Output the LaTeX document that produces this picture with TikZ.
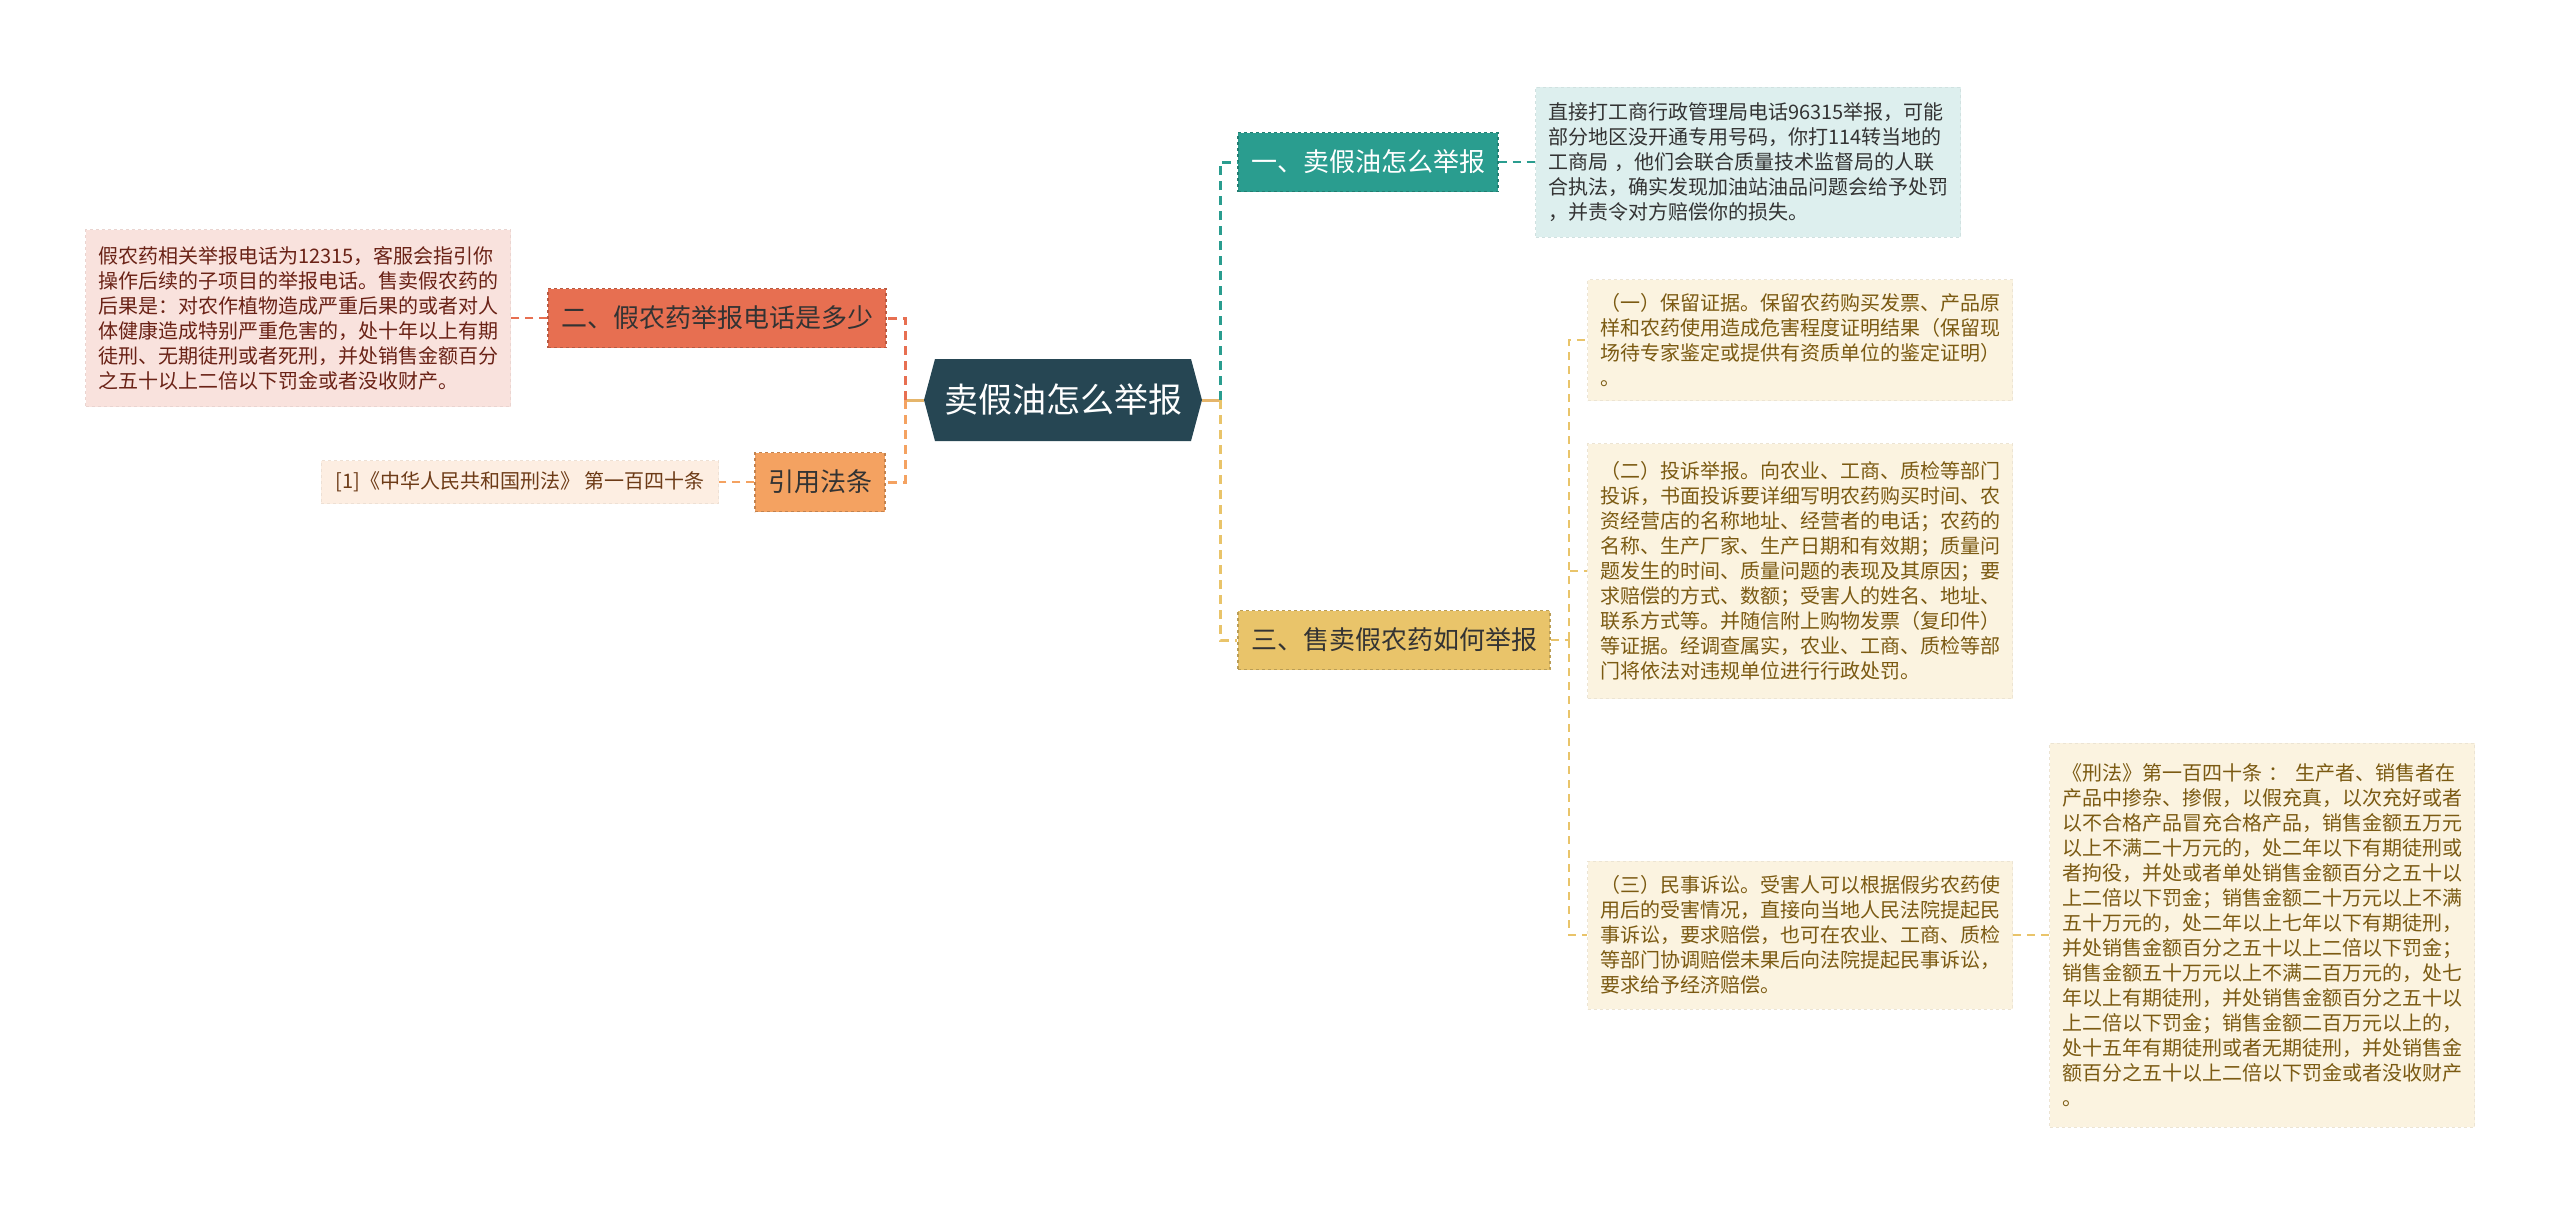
\documentclass[tikz,border=0pt]{standalone}
\usepackage{fontspec}
\setmainfont{Noto Sans CJK SC}
\usetikzlibrary{shapes.symbols}
\definecolor{rootfill}{HTML}{264653}
\definecolor{tealfill}{HTML}{2A9D8F}
\definecolor{goldfill}{HTML}{E9C46A}
\definecolor{coralfill}{HTML}{E76F51}
\definecolor{orangefill}{HTML}{F4A261}
\definecolor{cyanleaf}{HTML}{DDEFEE}
\definecolor{creamleaf}{HTML}{FBF3E0}
\definecolor{pinkleaf}{HTML}{F9E2DD}
\definecolor{peachleaf}{HTML}{FDEEE2}
\definecolor{creamtext}{HTML}{7B5A12}
\definecolor{pinktext}{HTML}{6A2216}
\definecolor{peachtext}{HTML}{6D3B17}
\definecolor{rootlink}{HTML}{E5B56B}

\begin{document}
\begin{tikzpicture}[x=1pt, y=-1pt,
  rootnode/.style={shape=signal, signal to=west and east, signal pointer angle=150, fill=rootfill, text=white, font=\fontsize{34}{40}\selectfont, minimum width=278pt, minimum height=82pt, inner sep=0pt},
  branch/.style={draw=#1!80!black, dashed, line width=1.2pt, fill=#1, font=\fontsize{26}{30}\selectfont, minimum height=59pt, inner xsep=13pt, inner ysep=0pt},
  leafbox/.style={draw=#1!94!black, dashed, line width=0.8pt, fill=#1, font=\fontsize{20}{25}\selectfont, text width=400pt, align=left, inner xsep=12.5pt, inner ysep=8pt},
  trunk/.style={draw=#1, dashed, line width=3pt, dash pattern=on 9pt off 6pt},
  leaflink/.style={draw=#1, dashed, line width=1.6pt, dash pattern=on 8pt off 6pt},
  rootstub/.style={draw=rootlink, line width=3pt}
]
\useasboundingbox (0,0) rectangle (2560,1215);

% centre and main branches
\node[rootnode] (root) at (1063,400) {卖假油怎么举报};
\node[branch=tealfill, text=white] (b1) at (1368,162) {一、卖假油怎么举报};
\node[branch=goldfill, text=black!80] (b3) at (1394,640) {三、售卖假农药如何举报};
\node[branch=coralfill, text=black!80] (b2) at (717,318) {二、假农药举报电话是多少};
\node[branch=orangefill, text=black!80] (b4) at (820,482) {引用法条};

% leaves
\node[leafbox=cyanleaf, text=black!80, minimum height=150pt] (l1) at (1748,162) {直接打工商行政管理局电话96315举报，可能\\
部分地区没开通专用号码，你打114转当地的\\
工商局 ，他们会联合质量技术监督局的人联\\
合执法，确实发现加油站油品问题会给予处罚\\
，并责令对方赔偿你的损失。};
\node[leafbox=creamleaf, text=creamtext, minimum height=121pt] (l31) at (1800,340) {（一）保留证据。保留农药购买发票、产品原\\
样和农药使用造成危害程度证明结果（保留现\\
场待专家鉴定或提供有资质单位的鉴定证明）\\
。};
\node[leafbox=creamleaf, text=creamtext, minimum height=255pt] (l32) at (1800,571) {（二）投诉举报。向农业、工商、质检等部门\\
投诉，书面投诉要详细写明农药购买时间、农\\
资经营店的名称地址、经营者的电话；农药的\\
名称、生产厂家、生产日期和有效期；质量问\\
题发生的时间、质量问题的表现及其原因；要\\
求赔偿的方式、数额；受害人的姓名、地址、\\
联系方式等。并随信附上购物发票（复印件）\\
等证据。经调查属实，农业、工商、质检等部\\
门将依法对违规单位进行行政处罚。};
\node[leafbox=creamleaf, text=creamtext, minimum height=148pt] (l33) at (1800,935) {（三）民事诉讼。受害人可以根据假劣农药使\\
用后的受害情况，直接向当地人民法院提起民\\
事诉讼，要求赔偿，也可在农业、工商、质检\\
等部门协调赔偿未果后向法院提起民事诉讼，\\
要求给予经济赔偿。};
\node[leafbox=creamleaf, text=creamtext, minimum height=384pt] (l34) at (2262,935) {《刑法》第一百四十条 ： 生产者、销售者在\\
产品中掺杂、掺假，以假充真，以次充好或者\\
以不合格产品冒充合格产品，销售金额五万元\\
以上不满二十万元的，处二年以下有期徒刑或\\
者拘役，并处或者单处销售金额百分之五十以\\
上二倍以下罚金；销售金额二十万元以上不满\\
五十万元的，处二年以上七年以下有期徒刑，\\
并处销售金额百分之五十以上二倍以下罚金；\\
销售金额五十万元以上不满二百万元的，处七\\
年以上有期徒刑，并处销售金额百分之五十以\\
上二倍以下罚金；销售金额二百万元以上的，\\
处十五年有期徒刑或者无期徒刑，并处销售金\\
额百分之五十以上二倍以下罚金或者没收财产\\
。};
\node[leafbox=pinkleaf, text=pinktext, minimum height=177pt] (l2) at (298,318) {假农药相关举报电话为12315，客服会指引你\\
操作后续的子项目的举报电话。售卖假农药的\\
后果是：对农作植物造成严重后果的或者对人\\
体健康造成特别严重危害的，处十年以上有期\\
徒刑、无期徒刑或者死刑，并处销售金额百分\\
之五十以上二倍以下罚金或者没收财产。};
\node[leafbox=peachleaf, text=peachtext, text width=, align=center, inner xsep=14pt, minimum height=43pt] (l4) at (520,482) {[1]《中华人民共和国刑法》 第一百四十条};

% junctions
\coordinate (rj) at (1220,400);
\coordinate (lj) at (905,400);
\coordinate (gj) at (1569,640);

% connectors
\draw[rootstub] (root.east) -- (rj);
\draw[rootstub] (root.west) -- (lj);
\draw[trunk=tealfill] (rj) |- (b1.west);
\draw[trunk=goldfill] (rj) |- (b3.west);
\draw[trunk=coralfill] (lj) |- (b2.east);
\draw[trunk=orangefill] (lj) |- (b4.east);
\draw[leaflink=tealfill] (b1.east) -- (l1.west);
\draw[leaflink=coralfill] (b2.west) -- (l2.east);
\draw[leaflink=orangefill] (b4.west) -- (l4.east);
\draw[leaflink=goldfill] (b3.east) -- (gj);
\draw[leaflink=goldfill] (gj) |- (l31.west);
\draw[leaflink=goldfill] (gj) |- (l32.west);
\draw[leaflink=goldfill] (gj) |- (l33.west);
\draw[leaflink=goldfill] (l33.east) -- (l34.west);
\end{tikzpicture}
\end{document}
